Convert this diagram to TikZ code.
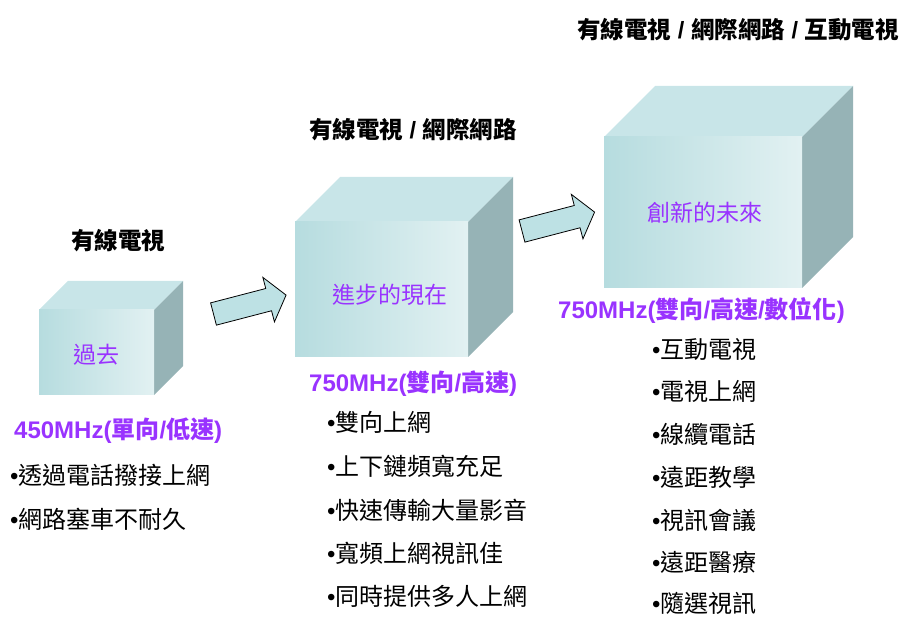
\documentclass[tikz,border=0pt]{standalone}
\usepackage{fontspec}
\setmainfont{Noto Sans CJK TC}
\newfontfamily\lat{Liberation Sans}
\definecolor{cubefrontL}{HTML}{B6DCDF}
\definecolor{cubefrontR}{HTML}{E2F1F2}
\definecolor{cubetop}{HTML}{C8E5E8}
\definecolor{cubeside}{HTML}{96B3B6}
\definecolor{arrowfill}{HTML}{BDE1E4}
\definecolor{lbl}{HTML}{9933FF}
\newcommand\lt[1]{{\lat #1}}
\newcommand\bul{{\lat •}}
\newcommand\drawcube[6]{%
  \fill[cubetop] (#2,#3) -- ++(#6,-#6) -- ++(#4,0) -- ++(-#6,#6) -- cycle;
  \fill[cubeside] (#2+#4,#3) -- ++(#6,-#6) -- ++(0,#5) -- ++(-#6,#6) -- cycle;
  \node[cubefront, minimum width=#4pt, minimum height=#5pt, anchor=north west] (#1) at (#2,#3) {};
}
\newcommand\blockarrow[4]{%
  \begin{scope}[shift={(#2,#3)}, rotate=#4]
    \draw[blockarr] (0,-11.5) -- (57,-11.5) -- (57,-23) -- (75,0) -- (57,23) -- (57,11.5) -- (0,11.5) -- cycle;
    \coordinate (#1) at (75,0);
  \end{scope}
}
\tikzset{
  x=1pt, y=-1pt,
  cubefront/.style={draw=none, inner sep=0, outer sep=0, left color=cubefrontL, right color=cubefrontR},
  blockarr/.style={draw=black, line width=0.8pt, fill=arrowfill, line join=miter},
  heading/.style={font=\fontsize{23.5}{23.5}\selectfont\bfseries, inner sep=0},
  rate/.style={font=\fontsize{24}{24}\selectfont\bfseries, text=lbl, anchor=west, inner sep=0},
  item/.style={font=\fontsize{24}{24}\selectfont, anchor=west, inner sep=0},
  cubelabel/.style={font=\fontsize{23}{23}\selectfont, text=lbl, inner sep=0},
}
\begin{document}
\begin{tikzpicture}
\useasboundingbox (0,0) rectangle (905,617);
% cubes
\drawcube{past}{39}{310}{115}{85}{29}
\drawcube{present}{295}{222}{173}{135}{45}
\drawcube{future}{604}{137}{198}{151}{51}
\node[cubelabel] (lpast) at (96,355) {過去};
\node[cubelabel] (lpresent) at (390,295) {進步的現在};
\node[cubelabel] (lfuture) at (705,213) {創新的未來};
% arrows
\blockarrow{a1}{213.5}{314}{14.6}
\blockarrow{a2}{522}{231}{14.6}
% headings
\node[heading] (h1) at (118,241) {有線電視};
\node[heading] (h2) at (413,130) {有線電視\lt{\bfseries\ /\ }網際網路};
\node[heading] (h3) at (738,30) {有線電視\lt{\bfseries\ /\ }網際網路\lt{\bfseries\ /\ }互動電視};
% column 1
\node[rate] (r1) at (14,431) {\lt{\bfseries 450MHz(}單向\lt{\bfseries /}低速\lt{\bfseries )}};
\node[item] (i11) at (10,475) {\bul 透過電話撥接上網};
\node[item] (i12) at (10,519) {\bul 網路塞車不耐久};
% column 2
\node[rate] (r2) at (309,384) {\lt{\bfseries 750MHz(}雙向\lt{\bfseries /}高速\lt{\bfseries )}};
\node[item] (i21) at (327,422) {\bul 雙向上網};
\node[item] (i22) at (327,466) {\bul 上下鏈頻寬充足};
\node[item] (i23) at (327,510) {\bul 快速傳輸大量影音};
\node[item] (i24) at (327,553) {\bul 寬頻上網視訊佳};
\node[item] (i25) at (327,596) {\bul 同時提供多人上網};
% column 3
\node[rate] (r3) at (558,311) {\lt{\bfseries 750MHz(}雙向\lt{\bfseries /}高速\lt{\bfseries /}數位化\lt{\bfseries )}};
\node[item] (i31) at (652,349) {\bul 互動電視};
\node[item] (i32) at (652,391) {\bul 電視上網};
\node[item] (i33) at (652,434) {\bul 線纜電話};
\node[item] (i34) at (652,477) {\bul 遠距教學};
\node[item] (i35) at (652,520) {\bul 視訊會議};
\node[item] (i36) at (652,562) {\bul 遠距醫療};
\node[item] (i37) at (652,603) {\bul 隨選視訊};
\end{tikzpicture}
\end{document}
